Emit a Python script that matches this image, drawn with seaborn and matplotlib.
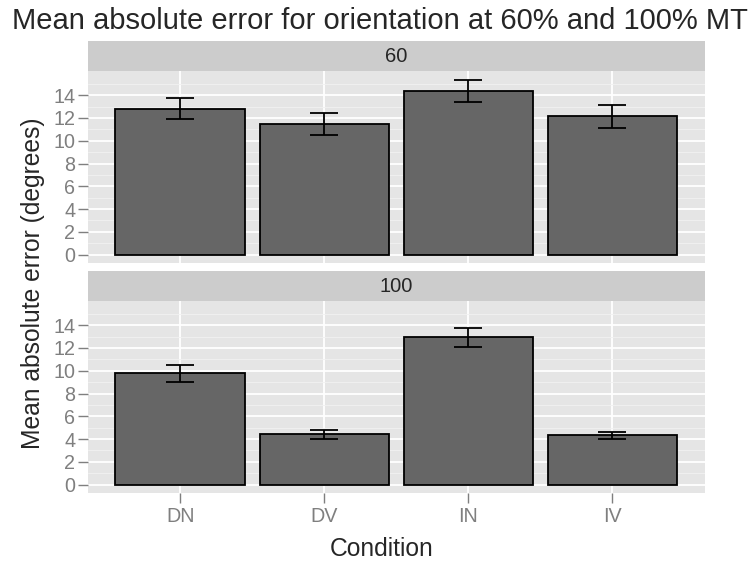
import numpy as np
import pandas as pd
import seaborn as sns
import matplotlib
matplotlib.use("Agg")
import matplotlib.pyplot as plt
from matplotlib.ticker import FixedLocator

# values
conditions = ["DN", "DV", "IN", "IV"]
mt_levels = ["60", "100"]
mean_60 = [12.83, 11.48, 14.40, 12.14]
se_60 = [0.93, 0.98, 0.97, 0.98]
mean_100 = [9.79, 4.40, 12.93, 4.31]
se_100 = [0.75, 0.38, 0.80, 0.27]
y_ticks = [0, 2, 4, 6, 8, 10, 12, 14]

means = {"60": mean_60, "100": mean_100}
errors = {"60": se_60, "100": se_100}

sns.set_style("white")
plt.rcParams['font.family'] = ['Liberation Sans', 'DejaVu Sans']

W, H = 751, 561
fig = plt.figure(figsize=(W / 100, H / 100), dpi=100)

# panel boxes in pixels: (top, bottom)
panel_px = [(71, 263.3), (301, 493.3)]
left_px, right_px = 87.7, 705
strip_h = 30
grey_txt = "#7F7F7F"

for i, level in enumerate(mt_levels):
    top, bot = panel_px[i]
    ax = fig.add_axes([left_px / W, 1 - bot / H, (right_px - left_px) / W, (bot - top) / H])
    ax.set_facecolor("#E5E5E5")
    df = pd.DataFrame({"Condition": conditions, "Error": means[level]})
    sns.barplot(data=df, x="Condition", y="Error", color="#666666", saturation=1,
                edgecolor="black", linewidth=1.3, width=0.9, ax=ax, zorder=3)
    ax.errorbar(np.arange(len(conditions)), means[level], yerr=errors[level], fmt="none",
                ecolor="black", elinewidth=1.3, capsize=10.3, capthick=1.3, zorder=4)

    ax.set_xlim(-0.643, 3.643)
    ax.set_ylim(-0.77, 16.13)
    ax.yaxis.set_major_locator(FixedLocator(y_ticks))
    ax.yaxis.set_minor_locator(FixedLocator([v + 1 for v in y_ticks]))
    ax.grid(True, which="major", color="white", linewidth=1.3, zorder=1)
    ax.grid(True, which="minor", axis="y", color="#F2F2F2", linewidth=0.6, zorder=1)
    ax.set_axisbelow(True)
    for s in ax.spines.values():
        s.set_visible(False)
    ax.tick_params(axis="y", which="major", left=True, length=7, width=1, color=grey_txt,
                   labelcolor=grey_txt, labelsize=14.2, pad=2)
    ax.tick_params(axis="y", which="minor", left=False, length=0)
    ax.set_xlabel("")
    ax.set_ylabel("")
    if i == 0:
        ax.tick_params(axis="x", bottom=False, labelbottom=False)
    else:
        ax.tick_params(axis="x", bottom=True, length=7, width=1, color=grey_txt,
                       labelcolor=grey_txt, labelsize=14.2, pad=3)

    # facet strip
    sax = fig.add_axes([left_px / W, 1 - top / H, (right_px - left_px) / W, strip_h / H])
    sax.set_facecolor("#CCCCCC")
    sax.set_xticks([])
    sax.set_yticks([])
    for s in sax.spines.values():
        s.set_visible(False)
    sax.text(0.5, 0.5, level, ha="center", va="center", fontsize=14.5, transform=sax.transAxes)

fig.text(380 / W, 1 - 21 / H, "Mean absolute error for orientation at 60% and 100% MT",
         ha="center", va="center", fontsize=21)
fig.text(382 / W, 1 - 556 / H, "Condition", ha="center", va="baseline", fontsize=17.7)
fig.text(33 / W, 1 - 283 / H, "Mean absolute error (degrees)", ha="center", va="center",
         rotation=90, fontsize=17.7)

fig.savefig("out.png", dpi=100)
